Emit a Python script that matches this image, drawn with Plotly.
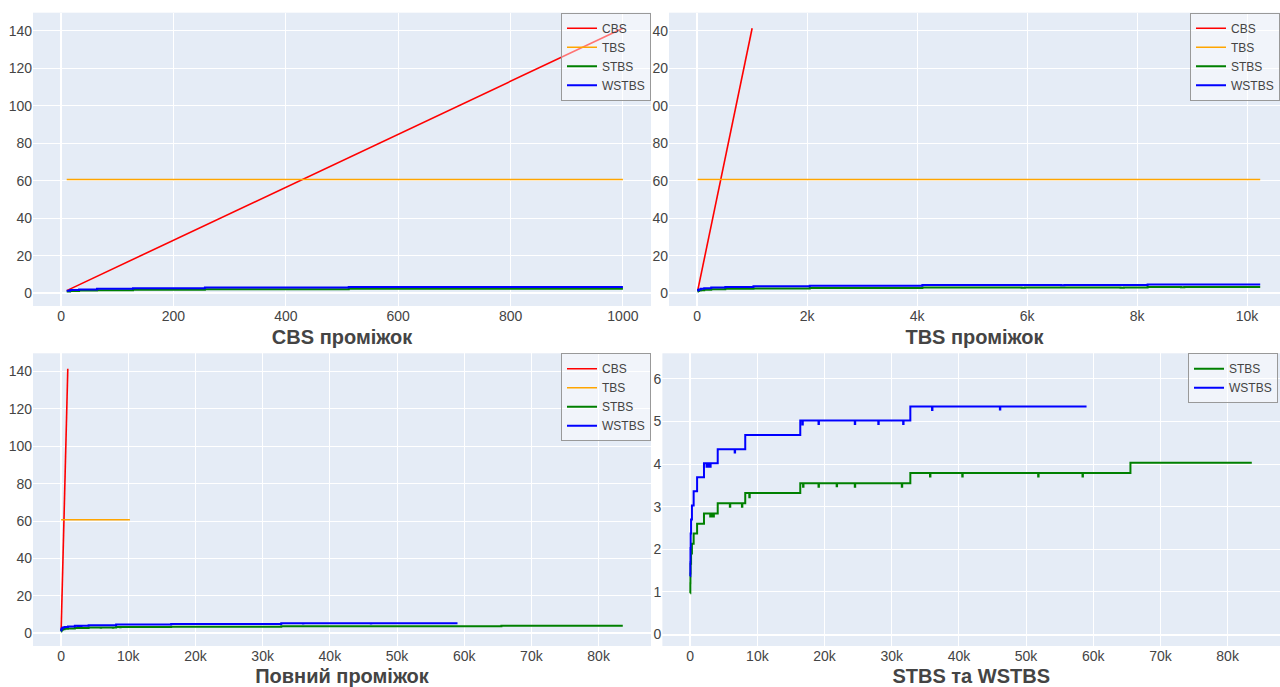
import plotly.graph_objects as go

# ---------------- data ----------------
cbs_x = [10, 1000]
cbs_y = [1.41, 141.4]

tbs_x = [10, 10240]
tbs_y = [60.7, 60.7]

stbs_x = [10, 16, 32, 64, 128, 256, 512, 1024, 2048,
          2980, 3040, 3280, 3340, 3460, 3520,
          4096, 5900, 5960, 7700, 7760,
          8192, 8800, 8860,
          16384, 16800, 16860, 19100, 19160, 21800, 21860, 24500, 24560, 31500, 31560,
          32768, 35700, 35760, 40500, 40560, 51800, 51860, 58400, 58460,
          65536, 83600]
stbs_y = [0.97, 1.20, 1.43, 1.66, 1.90, 2.13, 2.37, 2.60, 2.84,
          2.77, 2.84, 2.77, 2.84, 2.77, 2.84,
          3.08, 3.00, 3.08, 3.00, 3.08,
          3.32, 3.22, 3.32,
          3.55, 3.47, 3.55, 3.47, 3.55, 3.48, 3.55, 3.47, 3.55, 3.47, 3.55,
          3.79, 3.71, 3.79, 3.71, 3.79, 3.71, 3.79, 3.71, 3.79,
          4.03, 4.03]

wstbs_x = [10, 16, 32, 64, 128, 256, 512, 1024, 2048,
           2430, 2490, 2730, 2790, 2980, 3040,
           4096, 6620, 6680,
           8192,
           16384, 16700, 16760, 19100, 19160, 24500, 24560, 28000, 28060, 31700, 31760,
           32768, 36000, 36060, 46100, 46160,
           59000]
wstbs_y = [1.37, 1.70, 2.03, 2.37, 2.70, 3.03, 3.36, 3.69, 4.02,
           3.94, 4.02, 3.94, 4.02, 3.94, 4.02,
           4.35, 4.27, 4.35,
           4.68,
           5.02, 4.93, 5.02, 4.94, 5.02, 4.94, 5.02, 4.94, 5.02, 4.94, 5.02,
           5.35, 5.27, 5.35, 5.28, 5.35,
           5.35]

series_names = ["CBS", "TBS", "STBS", "WSTBS"]
series_colors = ["red", "orange", "green", "blue"]

panel_titles = ["CBS проміжок", "TBS проміжок", "Повний проміжок", "STBS та WSTBS"]

y_tickvals_big = [0, 20, 40, 60, 80, 100, 120, 140]
y_ticktext_big = ["0", "20", "40", "60", "80", "100", "120", "140"]
# labels of the upper-right panel as they are visible (left digit cut off)
y_ticktext_tr = ["0", "20", "40", "60", "80", "00", "20", "40"]
y_tickvals_small = [0, 1, 2, 3, 4, 5, 6]


def clip(xs, ys, limit):
    """Keep the part of a series that lies at or left of `limit`."""
    if xs[-1] <= limit:
        return list(xs), list(ys)
    px, py = [], []
    for a, b in zip(xs, ys):
        if a <= limit:
            px.append(a)
            py.append(b)
    if px[-1] < limit:
        px.append(limit)
        py.append(py[-1])
    return px, py


FONT = "Liberation Sans, Arial, sans-serif"
fig = go.Figure()

all_series = [(cbs_x, cbs_y, "linear", 1.6), (tbs_x, tbs_y, "linear", 1.6),
              (stbs_x, stbs_y, "hv", 2), (wstbs_x, wstbs_y, "hv", 2)]

panels = [
    # axis suffix, legend id, x-limit, which series
    ("", "legend", cbs_x[-1], [0, 1, 2, 3]),
    ("2", "legend2", tbs_x[-1], [0, 1, 2, 3]),
    ("3", "legend3", None, [0, 1, 2, 3]),
    ("4", "legend4", None, [2, 3]),
]

for suf, leg, limit, idxs in panels:
    for i in idxs:
        xs, ys, shape, w = all_series[i]
        if limit is not None:
            xs, ys = clip(xs, ys, limit)
        fig.add_trace(go.Scatter(
            x=xs, y=ys, mode="lines", name=series_names[i],
            line=dict(color=series_colors[i], width=w, shape=shape),
            xaxis="x" + suf, yaxis="y" + suf, legend=leg, showlegend=True,
        ))

W, H = 1280, 687
def px_x(v):
    return v / W
def px_y(v):
    return (H - v) / H

top_dom = [px_y(306), px_y(12.7)]
bot_dom = [px_y(646), px_y(353.3)]
left_dom = [px_x(33), px_x(651)]
tr_dom = [px_x(669), 1.0]
br_dom = [px_x(662.4), 1.0]

tickfont = dict(family=FONT, size=14, color="#444")
titlefont = dict(family=FONT, size=20, color="#444", weight="bold")

def xax(dom, anchor, rng, dtick, title):
    return dict(domain=dom, anchor=anchor, range=rng, dtick=dtick, tick0=0,
                tickfont=tickfont, automargin=False, showline=False,
                title=dict(text=title, font=titlefont, standoff=6))

def yax(dom, anchor, rng, tickvals, ticktext):
    return dict(domain=dom, anchor=anchor, range=rng, tickvals=tickvals,
                ticktext=ticktext, tickfont=tickfont, automargin=False)

legend_common = dict(bgcolor="rgba(255,255,255,0.45)", bordercolor="#999999",
                     borderwidth=1, font=dict(family=FONT, size=12, color="#444"),
                     xanchor="right", yanchor="top", tracegroupgap=0)

fig.update_layout(
    width=W, height=H,
    template="plotly",
    paper_bgcolor="white",
    plot_bgcolor="#E5ECF6",
    margin=dict(l=0, r=0, t=0, b=0, autoexpand=False),
    font=dict(family=FONT, color="#444"),
    xaxis=xax(left_dom, "y", [-50, 1050], 200, panel_titles[0]),
    yaxis=yax(top_dom, "x", [-6.8, 149.7], y_tickvals_big, y_ticktext_big),
    xaxis2=xax(tr_dom, "y2", [-512, 10600], 2000, panel_titles[1]),
    yaxis2=yax(top_dom, "x2", [-6.8, 149.7], y_tickvals_big, y_ticktext_tr),
    xaxis3=xax(left_dom, "y3", [-4180, 87800], 10000, panel_titles[2]),
    yaxis3=yax(bot_dom, "x3", [-6.8, 149.7], y_tickvals_big, y_ticktext_big),
    xaxis4=xax(br_dom, "y4", [-4140, 87800], 10000, panel_titles[3]),
    yaxis4=yax(bot_dom, "x4", [-0.27, 6.6], y_tickvals_small, [str(v) for v in y_tickvals_small]),
    legend=dict(x=px_x(651), y=px_y(12.7), **legend_common),
    legend2=dict(x=1.0, y=px_y(12.7), **legend_common),
    legend3=dict(x=px_x(651), y=px_y(353.3), **legend_common),
    legend4=dict(x=px_x(1278), y=px_y(353.3), **legend_common),
)

fig.write_html("out.html")
